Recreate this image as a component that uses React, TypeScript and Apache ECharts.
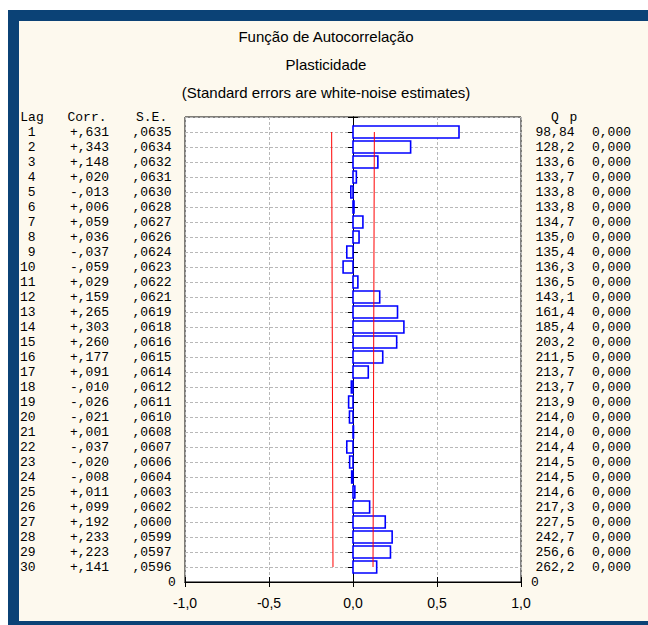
import React, { useEffect, useRef } from "react";
import * as echarts from "echarts";

const lags = [1, 2, 3, 4, 5, 6, 7, 8, 9, 10, 11, 12, 13, 14, 15, 16, 17, 18, 19, 20, 21, 22, 23, 24, 25, 26, 27, 28, 29, 30];
const corr = [0.631, 0.343, 0.148, 0.020, -0.013, 0.006, 0.059, 0.036, -0.037, -0.059, 0.029, 0.159, 0.265, 0.303, 0.260, 0.177, 0.091, -0.010, -0.026, -0.021, 0.001, -0.037, -0.020, -0.008, 0.011, 0.099, 0.192, 0.233, 0.223, 0.141];
const stdErr = [0.0635, 0.0634, 0.0632, 0.0631, 0.0630, 0.0628, 0.0627, 0.0626, 0.0624, 0.0623, 0.0622, 0.0621, 0.0619, 0.0618, 0.0616, 0.0615, 0.0614, 0.0612, 0.0611, 0.0610, 0.0608, 0.0607, 0.0606, 0.0604, 0.0603, 0.0602, 0.0600, 0.0599, 0.0597, 0.0596];
const qStat = [98.84, 128.2, 133.6, 133.7, 133.8, 133.8, 134.7, 135.0, 135.4, 136.3, 136.5, 143.1, 161.4, 185.4, 203.2, 211.5, 213.7, 213.7, 213.9, 214.0, 214.0, 214.4, 214.5, 214.5, 214.6, 217.3, 227.5, 242.7, 256.6, 262.2];
const pVal = [0, 0, 0, 0, 0, 0, 0, 0, 0, 0, 0, 0, 0, 0, 0, 0, 0, 0, 0, 0, 0, 0, 0, 0, 0, 0, 0, 0, 0, 0];
const leftHeader = ["Lag", "Corr.", "S.E."];
const rightHeader = ["Q", "p"];
const titles = ["Função de Autocorrelação", "Plasticidade", "(Standard errors are white-noise estimates)"];

const TOP = lags.length + 1;
const MONO = "'Liberation Mono', 'Courier New', monospace";
const SANS = "'Liberation Sans', Arial, sans-serif";
const FS = 13;
const NB = "\u00a0";

function fmtCorr(v: number) {
  return (v >= 0 ? "+" : "-") + "," + String(Math.round(Math.abs(v) * 1000)).padStart(3, "0");
}
function fmtSE(v: number) {
  return "," + String(Math.round(v * 10000)).padStart(4, "0");
}
function fmtQ(v: number) {
  return (v < 100 ? v.toFixed(2) : v.toFixed(1)).replace(".", ",");
}

const tok = (width: number) => ({
  width,
  align: "left",
  fontSize: FS,
  fontFamily: MONO,
  color: "#000",
  lineHeight: 14,
});

export default function App() {
  const ref = useRef<HTMLDivElement>(null);
  useEffect(() => {
    const chart = echarts.init(ref.current!, null, { renderer: "svg" });
    const leftLabel = (val: number) => {
      const v = Math.round(val);
      if (v === 0) return "{z|0}";
      if (v === TOP) return `{ha|${NB}}{hl|${leftHeader[0]}}{hc|${leftHeader[1]}}{hs|${leftHeader[2]}}`;
      const i = TOP - v - 1;
      if (i < 0 || i >= lags.length) return "";
      return `{a|${NB}}{l|${String(lags[i]).padStart(2, NB)}}{c|${fmtCorr(corr[i])}}{s|${fmtSE(stdErr[i])}}`;
    };
    const rightLabel = (val: number) => {
      const v = Math.round(val);
      if (v === 0) return "{z|0}";
      if (v === TOP) return `{qa|${NB}}{qh|${rightHeader[0]}}{ph|${rightHeader[1]}}`;
      const i = TOP - v - 1;
      if (i < 0 || i >= lags.length) return "";
      return `{ra|${NB}}{q|${fmtQ(qStat[i]).padStart(5, NB)}}{p|${pVal[i].toFixed(3).replace(".", ",")}}`;
    };
    const barData = lags.map((l, i) => [corr[i], TOP - l]);
    const upper = lags.map((l, i) => [2 * stdErr[i], TOP - l]);
    const lower = lags.map((l, i) => [-2 * stdErr[i], TOP - l]);
    const dash = { color: "#b8b8b8", type: [3, 2] as any, width: 1 };

    chart.setOption({
      animation: false,
      backgroundColor: "transparent",
      graphic: titles.map((t, k) => ({
        type: "text",
        x: 326,
        y: [36, 64, 92][k],
        style: {
          text: t,
          fill: "#000",
          fontSize: 15,
          fontFamily: SANS,
          align: "center",
          verticalAlign: "middle",
        },
      })),
      grid: {
        left: 185,
        right: 127,
        top: 117,
        bottom: 43,
        show: true,
        backgroundColor: "#ffffff",
        borderColor: "#000",
        borderWidth: 1,
      },
      xAxis: [
        {
          type: "value",
          min: -1,
          max: 1,
          interval: 0.5,
          position: "bottom",
          axisLine: { show: true, lineStyle: { color: "#000", width: 1 } },
          axisTick: { show: true, inside: true, length: 5, lineStyle: { color: "#000" } },
          axisLabel: {
            color: "#000",
            fontSize: 14,
            fontFamily: SANS,
            margin: 14,
            formatter: (v: number) => v.toFixed(1).replace(".", ","),
          },
          splitLine: { show: true, lineStyle: dash },
        },
        {
          type: "value",
          min: -1,
          max: 1,
          interval: 0.5,
          position: "top",
          axisLine: { show: true, lineStyle: { color: "#000", width: 1 } },
          axisTick: { show: true, inside: true, length: 5, lineStyle: { color: "#000" } },
          axisLabel: { show: false },
          splitLine: { show: false },
        },
      ],
      yAxis: [
        {
          type: "value",
          min: 0,
          max: TOP,
          interval: 1,
          position: "left",
          axisLine: { show: true, lineStyle: { color: "#000", width: 1 } },
          axisTick: { show: true, inside: true, length: 5, lineStyle: { color: "#000" } },
          axisLabel: {
            color: "#000",
            fontSize: FS,
            fontFamily: MONO,
            margin: 9,
            formatter: leftLabel,
            rich: {
              z: tok(8),
              a: tok(2),
              l: tok(50),
              c: tok(62.5),
              s: tok(43.5),
              ha: tok(2.3),
              hl: tok(47.2),
              hc: tok(68.5),
              hs: tok(40),
            },
          },
          splitLine: { show: true, lineStyle: dash },
        },
        {
          type: "value",
          min: 0,
          max: TOP,
          interval: 1,
          position: "right",
          axisLine: { show: true, lineStyle: { color: "#000", width: 1 } },
          axisTick: { show: true, inside: true, length: 5, lineStyle: { color: "#000" } },
          axisLabel: {
            color: "#000",
            fontSize: FS,
            fontFamily: MONO,
            margin: 10,
            formatter: rightLabel,
            rich: {
              z: tok(10),
              ra: tok(4.5),
              q: tok(56.5),
              p: tok(44),
              qa: tok(20),
              qh: tok(18.6),
              ph: tok(10),
            },
          },
          splitLine: { show: false },
        },
      ],
      series: [
        {
          type: "custom",
          xAxisIndex: 0,
          yAxisIndex: 0,
          data: barData,
          renderItem: (params: any, api: any) => {
            const c = api.value(0);
            const y = api.value(1);
            const p0 = api.coord([0, y]);
            const p1 = api.coord([c, y]);
            const h = 12;
            const x0 = Math.min(p0[0], p1[0]);
            const w = Math.max(Math.abs(p1[0] - p0[0]), 0.5);
            return {
              type: "rect",
              shape: { x: x0, y: p0[1] - h / 2, width: w, height: h },
              style: { fill: "#ffffff", stroke: "#0000ff", lineWidth: 1.6 },
            };
          },
          z: 3,
        },
        {
          type: "line",
          data: upper,
          symbol: "none",
          lineStyle: { color: "#ff0000", width: 1 },
          z: 4,
        },
        {
          type: "line",
          data: lower,
          symbol: "none",
          lineStyle: { color: "#ff0000", width: 1 },
          z: 4,
        },
      ],
    });
    return () => chart.dispose();
  }, []);

  return (
    <div style={{ position: "absolute", left: 0, top: 0, width: 648, height: 625, background: "#ffffff", overflow: "hidden" }}>
      <div style={{ position: "absolute", left: 8, top: 10, width: 640, height: 615, background: "#0b4276" }} />
      <div style={{ position: "absolute", left: 19, top: 21, width: 629, height: 600, background: "#fdf9ee" }} />
      <div ref={ref} style={{ position: "absolute", left: 0, top: 0, width: 648, height: 625 }} />
    </div>
  );
}
